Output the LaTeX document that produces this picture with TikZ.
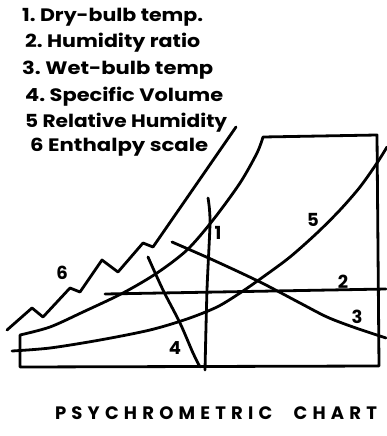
\documentclass[tikz,border=0pt]{standalone}
\usepackage{fontspec}
\usepackage{graphicx}
\setmainfont{Poppins}
\newcommand{\fitw}[2]{\resizebox{#1}{\height}{#2}}
\begin{document}
\begin{tikzpicture}[x=1pt,y=-1pt,line cap=round,line join=round,
  ink/.style={line width=2.8pt,black},
  lbl/.style={font=\fontsize{18}{18}\selectfont\bfseries,inner sep=0pt},
  leg/.style={font=\fontsize{18}{18}\selectfont\bfseries,inner sep=0pt,anchor=west}]
\useasboundingbox (0,0) rectangle (386,436);
% legend
\node[leg] (l1) at (22,17) {\fitw{181pt}{1.\ Dry-bulb temp.}};
\node[leg] (l2) at (25,43) {\fitw{175pt}{2.\ Humidity ratio}};
\node[leg] (l3) at (22,70) {\fitw{191pt}{3.\ Wet-bulb temp}};
\node[leg] (l4) at (25,97) {\fitw{198pt}{4.\ Specific Volume}};
\node[leg] (l5) at (25,123) {\fitw{202pt}{5 Relative Humidity}};
\node[leg] (l6) at (30,147) {\fitw{178pt}{6 Enthalpy scale}};
% chart outline with saturation curve
\draw[ink] (379,366) -- (20,367) -- (20,335)
  plot[smooth] coordinates {(20,335) (50,327) (83,312) (123,293) (157,273) (187,250) (213,220) (240,183) (257,153) (263,137)}
  -- (377,135) -- (379,366);
% 6 enthalpy scale
\draw[ink] (7,330) -- (32,308) -- (43,317) -- (70,288) -- (80,292) -- (102,260) -- (118,272) -- (143,243) -- (153,247) -- (236,127);
% 1 dry bulb
\draw[ink] plot[smooth] coordinates {(208,198) (210,222) (207,290) (205,370)};
% 2 humidity ratio
\draw[ink] (105,294) -- (386,289);
% 3 wet bulb
\draw[ink] plot[smooth] coordinates {(172,242) (213,260) (260,282) (300,303) (327,317) (353,327) (386,338)};
% 4 specific volume
\draw[ink] plot[smooth] coordinates {(148,257) (163,290) (180,323) (193,353) (200,367)};
% 5 relative humidity
\draw[ink] plot[smooth] coordinates {(12,351) (50,348) (100,340) (150,330) (187,319) (217,307) (240,293) (263,277) (290,257) (317,233) (340,210) (360,187) (377,163) (387,147)};
% labels
\node[lbl] (n1) at (218,233) {1};
\node[lbl] (n2) at (343,282) {2};
\node[lbl] (n3) at (357,317) {3};
\node[lbl] (n4) at (175,348) {4};
\node[lbl] (n5) at (313,220) {5};
\node[lbl] (n6) at (62,273) {6};
% title
\node[font=\fontsize{18}{18}\selectfont\bfseries, inner sep=0pt] (title) at (216,413)
  {\makebox[322pt][s]{P\hfil S\hfil Y\hfil C\hfil H\hfil R\hfil O\hfil M\hfil E\hfil T\hfil R\hfil I\hfil C\hspace{16pt}\hfil C\hfil H\hfil A\hfil R\hfil T}};
\end{tikzpicture}
\end{document}
